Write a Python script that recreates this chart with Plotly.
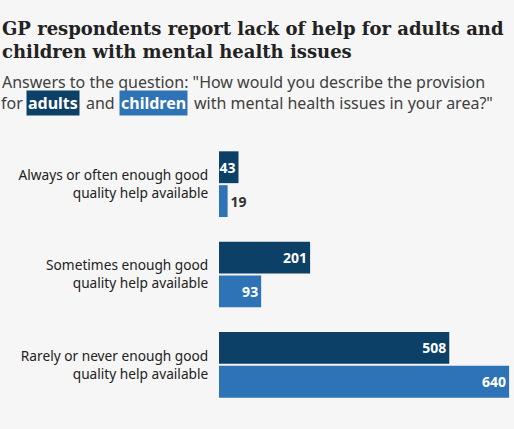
import plotly.graph_objects as go

# ==============================================================================
# Data
# ==============================================================================
categories = [
    "Always or often enough good<br>quality help available",
    "Sometimes enough good<br>quality help available",
    "Rarely or never enough good<br>quality help available",
]
adults = [43, 201, 508]
children = [19, 93, 640]

title_txt = "GP respondents report lack of help for adults and<br>children with mental health issues"
sub_line1 = 'Answers to the question: "How would you describe the provision'
sub_line2 = ["for", "adults", "and", "children", 'with mental health issues in your area?"']

# ==============================================================================
# Style
# ==============================================================================
W, H = 514, 429
mL, mR, mT, mB = 219, 4, 139, 19
bg = "#f6f6f6"
cDark = "#0c4066"
cLight = "#2e73b5"
cText = "#222222"
fontSans = "Noto Sans"
fontSerif = "DejaVu Serif"


def py(px):
    # pixel row -> paper y
    return (H - mB - px) / (H - mT - mB)


def pxx(px):
    # pixel column -> paper x
    return (px - mL) / (W - mL - mR)


fig = go.Figure()
fig.add_trace(go.Bar(
    y=categories, x=adults, orientation="h", name="adults",
    marker=dict(color=cDark, line=dict(width=0)),
    text=adults, textposition="inside", insidetextanchor="end",
    constraintext="none",
    textfont=dict(family=fontSans, size=14, color="white", weight="bold"),
))
fig.add_trace(go.Bar(
    y=categories, x=children, orientation="h", name="children",
    marker=dict(color=cLight, line=dict(width=0)),
    text=children, textposition=["outside", "inside", "inside"], insidetextanchor="end",
    constraintext="none", cliponaxis=False,
    textfont=dict(family=fontSans, size=14, color=["#333333", "white", "white"], weight="bold"),
))

# ==============================================================================
# Annotations
# ==============================================================================
ann = []
ann.append(dict(text="<b>" + title_txt + "</b>", x=pxx(0), y=py(16), xref="paper", yref="paper",
                xanchor="left", yanchor="top", align="left", showarrow=False,
                font=dict(family=fontSerif, size=18, color=cText)))
ann.append(dict(text=sub_line1, x=pxx(0), y=py(82), xref="paper", yref="paper",
                xanchor="left", yanchor="middle", align="left", showarrow=False,
                font=dict(family=fontSans, size=16, color="#404040")))
xs = [0, 26, 85, 119, 193]
for i, part in enumerate(sub_line2):
    boxed = i in (1, 3)
    ann.append(dict(
        text="<b>" + part + "</b>" if boxed else part,
        x=pxx(xs[i] - (0 if boxed else 1)), y=py(103), xref="paper", yref="paper",
        xanchor="left", yanchor="middle", showarrow=False,
        bgcolor=(cDark if i == 1 else cLight) if boxed else None,
        borderpad=1,
        font=dict(family=fontSans, size=16, color="white" if boxed else "#404040"),
    ))

fig.update_layout(
    width=W, height=H,
    margin=dict(l=mL, r=mR, t=mT, b=mB),
    paper_bgcolor=bg, plot_bgcolor=bg,
    barmode="group", bargap=0.25, bargroupgap=0.06,
    showlegend=False,
    annotations=ann,
    font=dict(family=fontSans, color=cText),
)
fig.update_xaxes(range=[0, 642], visible=False, fixedrange=True)
fig.update_yaxes(autorange="reversed", showgrid=False, zeroline=False, showline=False,
                 ticks="outside", ticklen=7, tickcolor=bg, fixedrange=True,
                 tickfont=dict(family=fontSans, size=13.7, color=cText))

fig.write_html("out.html", config={"displayModeBar": False},
               post_script="document.body.style.margin='0';")
